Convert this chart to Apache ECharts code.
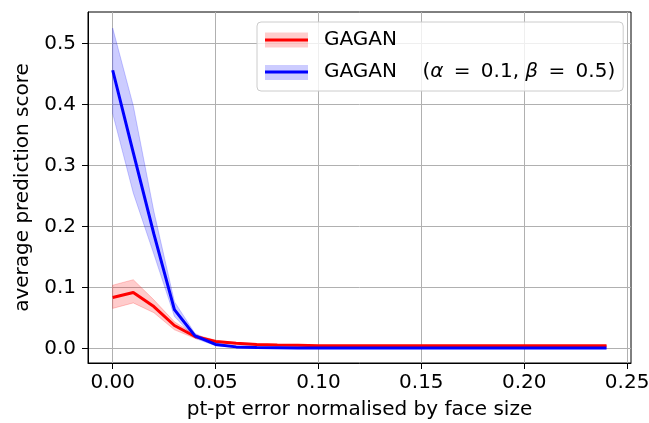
<!doctype html>
<html lang="en">
<head>
    <meta charset="UTF-8">
    <title>average prediction score</title>
    <script src="https://cdn.jsdelivr.net/npm/echarts@6/dist/echarts.min.js"></script>
    <style>
        html, body { margin: 0; padding: 0; background: #fff; }
        #main { width: 649px; height: 423px; }
    </style>
</head>
<body>
<div id="main"></div>
<script type="text/javascript">
    // pt-pt error (x) samples
    var errs = [0.00, 0.01, 0.02, 0.03, 0.04, 0.05, 0.06, 0.07, 0.08, 0.09, 0.10, 0.11, 0.12,
        0.13, 0.14, 0.15, 0.16, 0.17, 0.18, 0.19, 0.20, 0.21, 0.22, 0.23, 0.24];

    // GAGAN (red)
    var redMean = [0.084, 0.092, 0.069, 0.038, 0.020, 0.012, 0.009, 0.007, 0.006, 0.0055, 0.005, 0.005, 0.005,
        0.005, 0.005, 0.005, 0.005, 0.005, 0.005, 0.0048, 0.0048, 0.0048, 0.0048, 0.0048, 0.0048];
    var redLow = [0.066, 0.075, 0.059, 0.031, 0.017, 0.010, 0.008, 0.006, 0.005, 0.0047, 0.0043, 0.0043, 0.0043,
        0.0043, 0.0043, 0.0043, 0.0043, 0.0043, 0.0043, 0.0041, 0.0041, 0.0041, 0.0041, 0.0041, 0.0041];
    var redHigh = [0.104, 0.113, 0.080, 0.044, 0.023, 0.014, 0.010, 0.008, 0.007, 0.0063, 0.0057, 0.0057, 0.0057,
        0.0057, 0.0057, 0.0057, 0.0057, 0.0057, 0.0057, 0.0055, 0.0055, 0.0055, 0.0055, 0.0055, 0.0055];

    // GAGAN (alpha = 0.1, beta = 0.5) (blue)
    var blueMean = [0.456, 0.321, 0.188, 0.064, 0.021, 0.007, 0.003, 0.002, 0.0015, 0.001, 0.001, 0.001, 0.001,
        0.001, 0.001, 0.001, 0.001, 0.001, 0.001, 0.001, 0.001, 0.001, 0.001, 0.001, 0.001];
    var blueLow = [0.385, 0.255, 0.155, 0.053, 0.017, 0.005, 0.002, 0.0013, 0.001, 0.0007, 0.0007, 0.0007, 0.0007,
        0.0007, 0.0007, 0.0007, 0.0007, 0.0007, 0.0007, 0.0007, 0.0007, 0.0007, 0.0007, 0.0007, 0.0007];
    var blueHigh = [0.525, 0.398, 0.225, 0.077, 0.025, 0.009, 0.004, 0.0027, 0.002, 0.0013, 0.0013, 0.0013, 0.0013,
        0.0013, 0.0013, 0.0013, 0.0013, 0.0013, 0.0013, 0.0013, 0.0013, 0.0013, 0.0013, 0.0013, 0.0013];

    var xTicks = [0, 0.05, 0.10, 0.15, 0.20, 0.25];
    var yTicks = [0, 0.1, 0.2, 0.3, 0.4, 0.5];

    var nameRed = 'GAGAN';
    var nameBlue = 'GAGAN (alpha=0.1, beta=0.5)';

    function pairs(ys) {
        return errs.map(function (x, i) { return [x, ys[i]]; });
    }

    var font = 'DejaVu Sans';
    var chart = echarts.init(document.getElementById('main'));

    // shaded band: one polygon through upper edge then back along lower edge
    function bandSeries(lo, hi, color) {
        return {
            type: 'custom',
            silent: true,
            z: 1,
            data: errs.map(function (x, i) { return [x, lo[i], hi[i]]; }),
            encode: {x: 0, y: [1, 2]},
            renderItem: function (params, api) {
                if (params.dataIndex !== 0) return null;
                var pts = [];
                for (var i = 0; i < errs.length; i++) pts.push(api.coord([errs[i], hi[i]]));
                for (var j = errs.length - 1; j >= 0; j--) pts.push(api.coord([errs[j], lo[j]]));
                return {
                    type: 'polygon',
                    shape: {points: pts},
                    style: {fill: color, stroke: color, lineWidth: 1}
                };
            }
        };
    }

    var series = [
        bandSeries(redLow, redHigh, 'rgba(255,0,0,0.2)'),
        {
            name: nameRed, type: 'line', data: pairs(redMean), showSymbol: false,
            color: '#ff0000', lineStyle: {color: '#ff0000', width: 3}, z: 3
        },
        bandSeries(blueLow, blueHigh, 'rgba(0,0,255,0.2)'),
        {
            name: nameBlue, type: 'line', data: pairs(blueMean), showSymbol: false,
            color: '#0000ff', lineStyle: {color: '#0000ff', width: 3}, z: 4
        }
    ];

    chart.setOption({
        animation: false,
        backgroundColor: '#ffffff',
        textStyle: {fontFamily: font},
        grid: {
            left: 88, right: 18, top: 12, bottom: 60,
            show: true, borderColor: '#000', borderWidth: 1,
            outerBoundsMode: 'none'
        },
        legend: {
            left: 257, top: 22,
            orient: 'vertical',
            selectedMode: false,
            data: [nameRed, nameBlue],
            icon: 'rect',
            itemWidth: 43, itemHeight: 3,
            itemGap: 12,
            padding: [8, 8, 9, 8],
            backgroundColor: 'rgba(255,255,255,0.8)',
            borderColor: '#cccccc', borderWidth: 1, borderRadius: 4,
            textStyle: {
                fontFamily: font, fontSize: 20, color: '#000', padding: [0, 0, 0, 11],
                rich: {
                    n: {fontFamily: font, fontSize: 20, color: '#000'},
                    i: {fontFamily: font, fontSize: 20, color: '#000', fontStyle: 'italic'}
                }
            },
            formatter: function (name) {
                if (name === nameRed) return 'GAGAN';
                return '{n|GAGAN    (}{i|α}{n|\u2009 = \u20090.1, }{i|β}{n|\u2009 = \u20090.5)}';
            },
            z: 6
        },
        graphic: [
            {type: 'rect', shape: {x: 265, y: 32.5, width: 43, height: 15}, style: {fill: 'rgba(255,0,0,0.2)'}, z: 100, silent: true},
            {type: 'rect', shape: {x: 265, y: 65, width: 43, height: 15}, style: {fill: 'rgba(0,0,255,0.2)'}, z: 100, silent: true}
        ],
        xAxis: {
            type: 'value',
            min: -0.012, max: 0.2519,
            name: 'pt-pt error normalised by face size',
            nameLocation: 'middle', nameGap: 37,
            nameTextStyle: {fontFamily: font, fontSize: 20, color: '#000'},
            axisLine: {show: true, onZero: false, lineStyle: {color: '#000', width: 1}},
            axisTick: {show: true, inside: false, length: 6, lineStyle: {color: '#000', width: 1}, customValues: xTicks},
            axisLabel: {
                fontFamily: font, fontSize: 20, color: '#000', margin: 10,
                customValues: xTicks,
                formatter: function (v) { return v.toFixed(2); }
            },
            splitLine: {show: true, lineStyle: {color: '#b0b0b0', width: 1}}
        },
        yAxis: {
            type: 'value',
            min: -0.0234, max: 0.5514,
            name: 'average prediction score',
            nameLocation: 'middle', nameGap: 55,
            nameTextStyle: {fontFamily: font, fontSize: 20, color: '#000'},
            axisLine: {show: true, onZero: false, lineStyle: {color: '#000', width: 1}},
            axisTick: {show: true, inside: false, length: 6, lineStyle: {color: '#000', width: 1}, customValues: yTicks},
            axisLabel: {
                fontFamily: font, fontSize: 20, color: '#000', margin: 12,
                customValues: yTicks,
                formatter: function (v) { return v.toFixed(1); }
            },
            splitLine: {show: true, lineStyle: {color: '#b0b0b0', width: 1}}
        },
        series: series
    });
</script>
</body>
</html>
